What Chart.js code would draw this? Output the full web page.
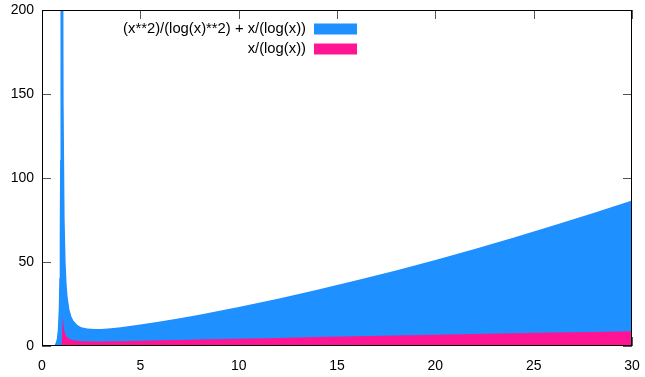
<!DOCTYPE html>
<html>
<head>
<meta charset="utf-8">
<title>Filled curves</title>
<script src="https://cdn.jsdelivr.net/npm/chart.js@4/dist/chart.umd.min.js"></script>
<style>
  html, body { margin: 0; padding: 0; background: #fff; }
  canvas { display: block; }
</style>
</head>
<body>
<canvas id="c" width="645" height="377"></canvas>
<script>
// Sample positions along x
const xs = [0.1, 0.3, 0.5, 0.6, 0.65, 0.7, 0.75, 0.8, 0.85, 0.88, 0.9, 0.92, 0.94,
  1.06, 1.1, 1.15, 1.2, 1.25, 1.3, 1.4, 1.5, 1.6, 1.8, 2.0, 2.3, 2.7, 3, 3.5, 4,
  5, 6, 7, 8, 10, 12, 14, 16, 18, 20, 22, 24, 26, 28, 30];

// (x**2)/(log(x)**2) + x/(log(x))
const sumValues = [-0.04, -0.19, -0.20, 0.21, 0.77, 1.89, 4.19, 9.27, 22.13, 40.51, 64.42, 110.71, 215.6,
  349.1, 144.74, 75.93, 49.90, 36.98, 29.51, 21.47, 17.39, 14.99, 12.44, 11.21, 10.39, 10.11, 10.19, 10.60, 11.21,
  12.76, 14.56, 16.54, 18.65, 23.20, 28.15, 33.45, 39.07, 45.01, 51.25, 57.77, 64.58, 71.66, 79.01, 86.62];

// x/(log(x))
const ratioValues = [-0.04, -0.25, -0.72, -1.17, -1.51, -1.96, -2.61, -3.59, -5.23, -6.88, -8.54, -11.03, -15.19,
  18.19, 11.54, 8.23, 6.58, 5.60, 4.96, 4.16, 3.70, 3.40, 3.06, 2.89, 2.76, 2.72, 2.73, 2.79, 2.89,
  3.11, 3.35, 3.60, 3.85, 4.34, 4.83, 5.31, 5.77, 6.23, 6.68, 7.12, 7.55, 7.98, 8.40, 8.82];

const seriesNames = ['(x**2)/(log(x)**2) + x/(log(x))', 'x/(log(x))'];
const seriesColors = ['#1e90ff', '#ff1493'];

const xTicks = [0, 5, 10, 15, 20, 25, 30];
const yTicks = [0, 50, 100, 150, 200];

const toPoints = vals => xs.map((x, i) => ({ x: x, y: vals[i] }));

const FONT = '"Liberation Sans", Arial, Helvetica, sans-serif';

// Inward tick marks on all four sides, drawn beneath the fills
const tickMarks = {
  id: 'tickMarks',
  beforeDatasetsDraw(chart) {
    const { ctx, chartArea: a, scales } = chart;
    const len = 9;
    ctx.save();
    ctx.strokeStyle = '#555';
    ctx.lineWidth = 1;
    ctx.beginPath();
    xTicks.forEach(v => {
      const px = Math.round(scales.x.getPixelForValue(v)) + 0.5;
      ctx.moveTo(px, a.bottom); ctx.lineTo(px, a.bottom - len);
      ctx.moveTo(px, a.top); ctx.lineTo(px, a.top + len);
    });
    yTicks.forEach(v => {
      const py = Math.round(scales.y.getPixelForValue(v)) + 0.5;
      ctx.moveTo(a.left, py); ctx.lineTo(a.left + len, py);
      ctx.moveTo(a.right, py); ctx.lineTo(a.right - len, py);
    });
    ctx.stroke();
    ctx.restore();
  }
};

// Frame and key, drawn over the fills
const frameAndKey = {
  id: 'frameAndKey',
  afterDatasetsDraw(chart) {
    const { ctx, chartArea: a } = chart;
    ctx.save();
    ctx.strokeStyle = '#000';
    ctx.lineWidth = 1;
    ctx.strokeRect(a.left + 0.5, a.top + 0.5, a.right - a.left - 1, a.bottom - a.top - 1);

    ctx.font = '14.8px ' + FONT;
    ctx.textAlign = 'right';
    ctx.textBaseline = 'middle';
    const textRight = 306;
    const swX = 314, swW = 43, swH = 11;
    const rows = [29, 49];
    seriesNames.forEach((name, i) => {
      const cy = rows[i];
      ctx.fillStyle = '#000';
      ctx.fillText(name, textRight, cy);
      ctx.fillStyle = seriesColors[i];
      ctx.fillRect(swX, cy - swH / 2, swW, swH);
    });
    ctx.restore();
  }
};

new Chart(document.getElementById('c'), {
  type: 'line',
  data: {
    datasets: [
      {
        label: seriesNames[0],
        data: toPoints(sumValues),
        backgroundColor: seriesColors[0],
        borderWidth: 0,
        pointRadius: 0,
        fill: 'origin',
        order: 1
      },
      {
        label: seriesNames[1],
        data: toPoints(ratioValues),
        backgroundColor: seriesColors[1],
        borderWidth: 0,
        pointRadius: 0,
        fill: 'origin',
        order: 0
      }
    ]
  },
  options: {
    responsive: false,
    devicePixelRatio: 1,
    animation: false,
    events: [],
    layout: { padding: { top: 10, right: 13, left: 0, bottom: 0 } },
    plugins: {
      legend: { display: false },
      tooltip: { enabled: false }
    },
    scales: {
      x: {
        type: 'linear',
        min: 0,
        max: 30,
        afterBuildTicks(scale) { scale.ticks = xTicks.map(v => ({ value: v })); },
        afterFit(scale) {
          scale.height = 31;
          scale.paddingLeft = 0;
          scale.paddingRight = 0;
        },
        grid: { display: false, drawTicks: false },
        border: { display: false },
        ticks: { color: '#000', font: { family: FONT, size: 14 }, padding: 12, maxRotation: 0 }
      },
      y: {
        type: 'linear',
        min: 0,
        max: 200,
        afterBuildTicks(scale) { scale.ticks = yTicks.map(v => ({ value: v })); },
        afterFit(scale) {
          scale.width = 42;
          scale.paddingTop = 0;
          scale.paddingBottom = 0;
        },
        grid: { display: false, drawTicks: false },
        border: { display: false },
        ticks: { color: '#000', font: { family: FONT, size: 14 }, padding: 8 }
      }
    }
  },
  plugins: [tickMarks, frameAndKey]
});
</script>
</body>
</html>
